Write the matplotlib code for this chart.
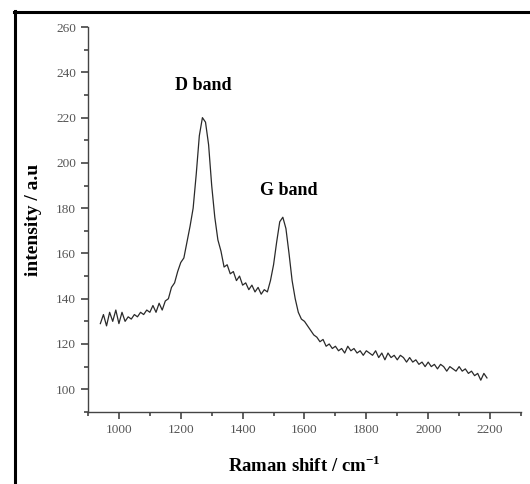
import numpy as np
import matplotlib
matplotlib.use("Agg")
import matplotlib.pyplot as plt
from matplotlib.lines import Line2D
from matplotlib.ticker import MultipleLocator

# Raman spektrum, sampel tiap 10 cm-1 mulai 940
shift_start = 940
shift_step = 10
intensity = [
    129, 133, 128, 134, 130, 135, 129, 134, 130, 132,
    131, 133, 132, 134, 133, 135, 134, 137, 134, 138,
    135, 139, 140, 145, 147, 152, 156, 158, 165, 172,
    180, 195, 212, 220, 218, 208, 190, 176, 166, 161,
    154, 155, 151, 152, 148, 150, 146, 147, 144, 146,
    143, 145, 142, 144, 143, 148, 155, 165, 174, 176,
    171, 160, 148, 140, 134, 131, 130, 128, 126, 124,
    123, 121, 122, 119, 120, 118, 119, 117, 118, 116,
    119, 117, 118, 116, 117, 115, 117, 116, 115, 117,
    114, 116, 113, 116, 114, 115, 113, 115, 114, 112,
    114, 112, 113, 111, 112, 110, 112, 110, 111, 109,
    111, 110, 108, 110, 109, 108, 110, 108, 109, 107,
    108, 106, 107, 104, 107, 105,
]
raman_shift = shift_start + shift_step * np.arange(len(intensity))

band_labels = ["D band", "G band"]
band_pos = [(1272, 234), (1548, 188)]

plt.rcParams['font.family'] = ['Liberation Serif', 'DejaVu Serif']
plt.rcParams['mathtext.fontset'] = 'custom'
plt.rcParams['mathtext.rm'] = 'Liberation Serif'
plt.rcParams['mathtext.bf'] = 'Liberation Serif:bold'

fig = plt.figure(figsize=(5.30, 4.84), dpi=100)
ax = fig.add_axes([0.166, 0.149, 0.817, 0.795])

ax.plot(raman_shift, intensity, color='#2a2a2a', linewidth=0.9)

ax.set_xlim(900, 2300)
ax.set_ylim(90, 260)
ax.xaxis.set_major_locator(MultipleLocator(200))
ax.xaxis.set_minor_locator(MultipleLocator(100))
ax.yaxis.set_minor_locator(MultipleLocator(10))
ax.set_yticks(np.arange(100, 261, 20))

for s in ['top', 'right']:
    ax.spines[s].set_visible(False)
for s in ['left', 'bottom']:
    ax.spines[s].set_color('#444444')
    ax.spines[s].set_linewidth(1.0)

ax.tick_params(which='major', direction='out', length=5, width=1.2,
               color='#444444', labelsize=9.5, labelcolor='#555555')
ax.tick_params(which='minor', direction='out', length=3, width=1.2, color='#444444')

ax.set_xlabel(r"Raman shift / cm$^{\mathbf{-1}}$", fontsize=13.5, fontweight='bold', labelpad=14)
ax.set_ylabel("intensity / a.u", fontsize=14, fontweight='bold', labelpad=10)

for lbl, (bx, by) in zip(band_labels, band_pos):
    ax.text(bx, by, lbl, fontsize=13, fontweight='bold', ha='center', va='center')

# bingkai luar (atas dan kiri)
fig.add_artist(Line2D([14/530, 1.0], [1 - 12/484, 1 - 12/484], color='black', linewidth=2.2,
                      transform=fig.transFigure))
fig.add_artist(Line2D([15/530, 15/530], [1 - 11/484, 0.0], color='black', linewidth=2.2,
                      transform=fig.transFigure))

fig.savefig("out.png", dpi=100)
